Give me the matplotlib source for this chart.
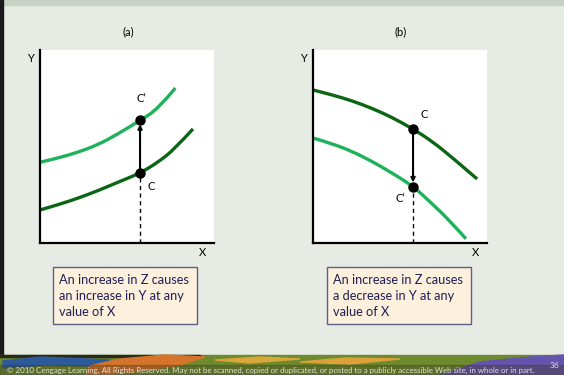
import matplotlib.pyplot as plt
from matplotlib.patches import Rectangle, Polygon, PathPatch
from matplotlib.path import Path

plt.rcParams['font.family'] = ['Lato', 'DejaVu Sans']

# panel (a): an increase in Z shifts the curve up
a_x_lo = [0, 1.03, 2.18, 3.33, 4.48, 5.73, 6.78, 7.74, 8.79]
a_y_lo = [1.71, 1.98, 2.32, 2.71, 3.15, 3.61, 4.18, 4.87, 5.91]
a_x_hi = [0, 1.03, 2.18, 3.33, 4.48, 5.73, 6.78, 7.78]
a_y_hi = [4.18, 4.40, 4.70, 5.09, 5.65, 6.34, 6.94, 8.03]

# panel (b): an increase in Z shifts the curve down
b_x_old = [0, 1.09, 2.24, 3.39, 4.54, 5.75, 6.84, 7.99, 9.43]
b_y_old = [7.93, 7.68, 7.37, 6.98, 6.51, 5.91, 5.27, 4.44, 3.32]
b_x_new = [0, 1.09, 2.24, 3.39, 4.54, 5.75, 6.84, 7.83, 8.79]
b_y_new = [5.44, 5.15, 4.75, 4.23, 3.63, 2.94, 2.04, 1.18, 0.22]

x_point = 5.75
a_c, a_c_prime = 3.62, 6.37
b_c, b_c_prime = 5.91, 2.92

captions = [
    "An increase in Z causes\nan increase in Y at any\nvalue of X",
    "An increase in Z causes\na decrease in Y at any\nvalue of X",
]
footer = ("\u00a9 2010 Cengage Learning. All Rights Reserved. May not be scanned, copied or "
          "duplicated, or posted to a publicly accessible Web site, in whole or in part.")

DARK = '#0b6614'
LIGHT = '#1eb35a'
W, H = 564, 375

fig = plt.figure(figsize=(W / 100, H / 100), dpi=100)

# slide background in pixel coordinates
bg = fig.add_axes([0, 0, 1, 1])
bg.set_xlim(0, W)
bg.set_ylim(H, 0)
bg.axis('off')
bg.add_patch(Rectangle((0, 0), W, H, color='#e6ebe4'))
bg.add_patch(Rectangle((0, 0), W, 5, color='#c8d2c5'))
bg.add_patch(Rectangle((0, 0), 3, 356, color='#1a1a1a'))

# painted strip along the bottom
bg.add_patch(Rectangle((0, 355), W, 20, color='#6d8a2e'))
bg.add_patch(Rectangle((0, 355), 200, 2, color='#2a2a1a'))
bg.add_patch(Polygon([(3, 361), (40, 357), (110, 360), (100, 366), (45, 365), (3, 368)],
                     color='#2d5a9c'))
bg.add_patch(Polygon([(90, 366), (120, 359), (165, 355), (205, 357), (180, 365),
                      (140, 371), (105, 375), (85, 375)], color='#d6742c'))
bg.add_patch(Polygon([(215, 360), (260, 357), (300, 359), (250, 363)], color='#d9a63c'))
bg.add_patch(Polygon([(300, 362), (345, 358), (400, 359), (350, 364)], color='#dca13a'))
bg.add_patch(Polygon([(440, 375), (480, 362), (530, 357), (564, 355), (564, 375)],
                     color='#6554ad'))
bg.add_patch(Rectangle((0, 365), W, 10, color='#3d3a20', alpha=0.35))
bg.text(7, 370, footer, fontsize=5.7, color='white', alpha=0.8, va='center', ha='left')
bg.text(555, 366, "36", fontsize=6, color='white', alpha=0.8, va='center', ha='center')


def smooth_path(xs, ys):
    # quadratic spline through the read points used as control points
    pts = list(zip(xs, ys))
    verts, codes = [pts[0]], [Path.MOVETO]
    for i in range(1, len(pts) - 1):
        end = pts[i + 1] if i == len(pts) - 2 else (
            (pts[i][0] + pts[i + 1][0]) / 2, (pts[i][1] + pts[i + 1][1]) / 2)
        verts += [pts[i], end]
        codes += [Path.CURVE3, Path.CURVE3]
    return Path(verts, codes)


def panel(left, title, curves, c_y, cp_y, c_lab, cp_lab, caption, caption_x):
    ax = fig.add_axes([left / W, (H - 243) / H, 174 / W, 193 / H])
    ax.set_xlim(0, 10)
    ax.set_ylim(0, 10)
    ax.set_facecolor('white')
    for s in ('top', 'right'):
        ax.spines[s].set_visible(False)
    for s in ('left', 'bottom'):
        ax.spines[s].set_linewidth(1.6)
        ax.spines[s].set_color('black')
    ax.set_xticks([])
    ax.set_yticks([])

    for xs, ys, col in curves:
        ax.add_patch(PathPatch(smooth_path(xs, ys), facecolor='none', edgecolor=col,
                               lw=2.4, capstyle='butt', clip_on=False))

    ax.plot([x_point, x_point], [0, min(c_y, cp_y)], color='black', lw=1,
            dashes=(3, 2.5))
    ax.annotate('', xy=(x_point, cp_y), xytext=(x_point, c_y),
                arrowprops=dict(arrowstyle='-|>', lw=1.5, color='black',
                                mutation_scale=6, shrinkA=0, shrinkB=3))
    ax.plot([x_point, x_point], [c_y, cp_y], 'o', color='black', ms=6.5, zorder=5)

    # point labels, placed in slide pixels
    ax.text(*c_lab, "C", fontsize=8, ha='center', va='center', transform=bg.transData)
    ax.text(*cp_lab, "C\u2019", fontsize=8, ha='center', va='center',
            transform=bg.transData)

    bg.text(left - 10, 58, "Y", fontsize=8, ha='center', va='center')
    bg.text(left + 163, 253, "X", fontsize=8, ha='center', va='center')
    bg.text(left + 88, 32, title, fontsize=8, ha='center', va='center')

    bg.add_patch(Rectangle((caption_x, 267), 144, 57, facecolor='#fdf0dc',
                           edgecolor='#5d6088', lw=1))
    bg.text(caption_x + 6, 296, caption, fontsize=9.2, color='#1f1f55',
            ha='left', va='center', linespacing=1.45)
    return ax


panel(40, "(a)", [(a_x_hi, a_y_hi, LIGHT), (a_x_lo, a_y_lo, DARK)],
      a_c, a_c_prime, (151, 186), (141, 98), captions[0], 53)
panel(313, "(b)", [(b_x_old, b_y_old, DARK), (b_x_new, b_y_new, LIGHT)],
      b_c, b_c_prime, (424, 115), (400, 198), captions[1], 327)

fig.savefig('out.png', dpi=100)
